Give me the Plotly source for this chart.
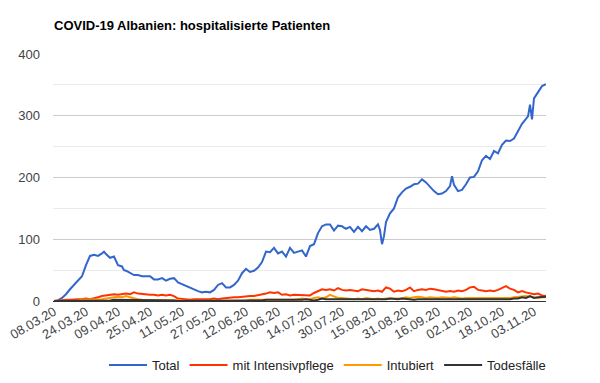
import plotly.graph_objects as go
import pandas as pd

# --- data ---
start_date = "2020-03-08"
tick_labels = ["08.03.20", "24.03.20", "09.04.20", "25.04.20", "11.05.20", "27.05.20",
               "12.06.20", "28.06.20", "14.07.20", "30.07.20", "15.08.20", "31.08.20",
               "16.09.20", "02.10.20", "18.10.20", "03.11.20"]
tick_days = [0, 16, 32, 48, 64, 80, 96, 112, 128, 144, 160, 176, 192, 208, 224, 240]

total_days = [0, 2, 4, 6, 8, 10, 12, 14, 16, 18, 20, 22, 24, 25, 26, 28, 30, 32, 34, 35, 36, 38,
              40, 42, 44, 46, 48, 50, 52, 54, 56, 58, 60, 62, 64, 66, 68, 70, 72, 74, 76, 78,
              80, 82, 84, 86, 88, 90, 92, 94, 96, 98, 100, 102, 104, 106, 108, 110, 112, 114,
              116, 118, 120, 122, 124, 126, 128, 130, 132, 134, 136, 138, 140, 142, 144, 146,
              148, 150, 152, 154, 156, 158, 160, 162, 163, 164, 165, 166, 168, 170, 172, 174,
              176, 178, 180, 182, 184, 186, 188, 190, 192, 194, 196, 198, 199, 200, 202, 204,
              206, 208, 210, 212, 214, 216, 218, 220, 222, 224, 226, 228, 230, 232, 234, 236,
              237, 238, 239, 240, 242, 244, 246]
total = [0, 1, 5, 11, 19, 26, 32, 40, 58, 73, 75, 73, 77, 80, 76, 70, 72, 58, 56, 50, 49, 45,
         42, 42, 40, 40, 40, 35, 35, 37, 33, 36, 37, 30, 27, 25, 22, 18, 16, 14, 15, 14,
         18, 26, 29, 22, 22, 26, 33, 45, 52, 47, 49, 54, 63, 80, 79, 86, 77, 80,
         72, 86, 78, 80, 82, 72, 89, 92, 110, 121, 124, 124, 114, 122, 121, 117,
         120, 112, 120, 113, 121, 115, 117, 124, 115, 92, 105, 128, 142, 150, 168, 176,
         182, 185, 189, 190, 197, 192, 185, 178, 173, 174, 178, 186, 202, 188, 178, 180,
         189, 200, 201, 210, 228, 235, 230, 243, 239, 253, 260, 259, 263, 275, 287, 295,
         299, 318, 294, 328, 339, 348, 351]

small_days = list(range(0, 247, 2))
intensiv = [0, 1, 1, 2, 2, 3, 3, 3, 4, 3, 4, 6, 8, 9, 10, 11, 10, 11, 12, 11, 14, 12, 11, 10, 10,
            10, 9, 10, 9, 10, 8, 4, 3, 3, 2, 3, 3, 2, 3, 3, 4, 3, 4, 5, 5, 6, 6, 7, 7, 8, 8, 9,
            10, 12, 14, 13, 14, 10, 11, 9, 10, 10, 9, 10, 9, 13, 16, 19, 18, 19, 17, 21, 18, 17,
            18, 17, 16, 19, 18, 17, 16, 17, 15, 22, 20, 15, 17, 16, 18, 22, 16, 18, 19, 18, 20,
            19, 18, 17, 15, 16, 15, 17, 16, 18, 22, 23, 18, 17, 16, 17, 16, 18, 21, 24, 20, 18,
            14, 16, 14, 13, 11, 12, 9, 8]
intubiert = [0, 0, 0, 1, 1, 1, 1, 2, 2, 2, 2, 3, 3, 4, 5, 6, 7, 6, 8, 6, 4, 3, 2, 2, 2, 2, 1, 1,
             1, 2, 1, 1, 1, 0, 0, 1, 0, 0, 0, 0, 1, 1, 1, 1, 1, 1, 1, 1, 1, 2, 2, 2, 2, 2, 2, 2,
             2, 2, 1, 2, 2, 3, 4, 3, 3, 5, 6, 4, 6, 10, 7, 5, 5, 4, 4, 3, 4, 3, 5, 4, 3, 4, 3, 4,
             4, 5, 5, 4, 6, 5, 6, 7, 6, 5, 6, 5, 5, 6, 5, 5, 6, 5, 4, 5, 5, 5, 4, 4, 5, 4, 5, 4,
             4, 5, 5, 6, 7, 8, 8, 7, 6, 5, 6, 6]
todesfaelle = [0, 0, 0, 0, 0, 0, 0, 0, 0, 1, 1, 1, 1, 1, 1, 2, 2, 2, 2, 1, 2, 1, 1, 1, 1, 1, 1, 1,
               1, 1, 1, 0, 0, 0, 0, 0, 0, 0, 0, 0, 0, 0, 0, 0, 0, 1, 1, 1, 1, 1, 1, 1, 1, 2, 2, 1,
               2, 1, 2, 2, 2, 1, 2, 3, 2, 1, 2, 4, 3, 3, 2, 3, 2, 3, 2, 3, 3, 2, 3, 3, 2, 3, 2, 3,
               4, 3, 3, 4, 3, 3, 2, 3, 3, 2, 3, 3, 2, 3, 3, 2, 3, 2, 3, 3, 2, 3, 3, 2, 3, 3, 2, 3,
               3, 3, 3, 4, 4, 6, 5, 8, 5, 6, 7, 7]

series_names = ["Total", "mit Intensivpflege", "Intubiert", "Todesfälle"]
colors = ["#3366cc", "#ff3300", "#ff9900", "#333333"]

base = pd.Timestamp(start_date)
def to_dates(days):
    return [base + pd.Timedelta(days=d) for d in days]

fig = go.Figure()
for name, days, vals, col in [
    (series_names[0], total_days, total, colors[0]),
    (series_names[1], small_days, intensiv, colors[1]),
    (series_names[2], small_days, intubiert, colors[2]),
    (series_names[3], small_days, todesfaelle, colors[3]),
]:
    fig.add_trace(go.Scatter(x=to_dates(days), y=vals, mode="lines", name=name,
                             line=dict(color=col, width=2)))

# the page body has an 8px default margin, so the layout is laid out 8px up/left
font_family = "Arial, Liberation Sans, sans-serif"
fig.update_layout(
    width=600, height=383,
    margin=dict(l=45, r=62, t=46, b=89),
    paper_bgcolor="white", plot_bgcolor="white",
    font=dict(family=font_family, size=13, color="#444444"),
    title=dict(text="<b>COVID-19 Albanien: hospitalisierte Patienten</b>",
               x=46 / 600, xanchor="left", xref="container",
               y=1 - 17 / 383, yanchor="middle", yref="container",
               pad=dict(l=0, r=0, t=0, b=0),
               font=dict(family=font_family, size=13, color="#000000")),
    showlegend=True,
    legend=dict(orientation="h", x=(96 - 45) / 493, xanchor="left", y=-0.254, yanchor="middle",
                font=dict(size=13, color="#222222"), itemwidth=38),
)
fig.update_xaxes(
    range=[base + pd.Timedelta(hours=-12), base + pd.Timedelta(days=246)],
    tickvals=to_dates(tick_days), ticktext=tick_labels, tickangle=-30,
    showgrid=False, showline=False, zeroline=False, ticks="",
    tickfont=dict(size=13, color="#444444"), automargin=False,
    ticklabeloverflow="allow",
)
fig.update_yaxes(
    range=[0, 400], tickvals=[0, 100, 200, 300, 400],
    showgrid=True, gridcolor="#cccccc", gridwidth=1,
    minor=dict(dtick=50, showgrid=True, gridcolor="#ebebeb", gridwidth=1),
    zeroline=True, zerolinecolor="#333333", zerolinewidth=1,
    showline=False, ticks="", ticklabelstandoff=12, automargin=False,
    tickfont=dict(size=13, color="#444444"),
)
fig.write_html("out.html")
